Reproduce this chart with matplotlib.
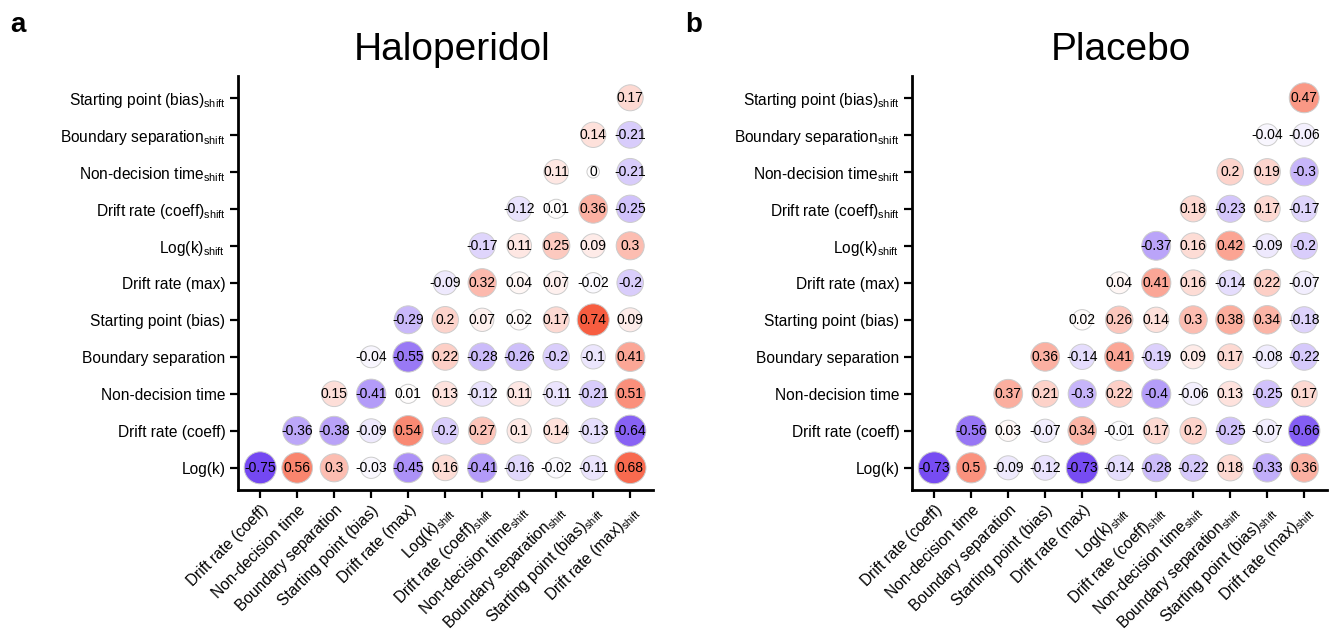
import matplotlib.pyplot as plt
import numpy as np
from matplotlib.colors import LinearSegmentedColormap

plt.rcParams['font.family'] = ['Liberation Sans', 'DejaVu Sans']
plt.rcParams['mathtext.fontset'] = 'custom'
plt.rcParams['mathtext.rm'] = 'Liberation Sans'
plt.rcParams['mathtext.it'] = 'Liberation Sans:italic'

SH = r'$_{\mathrm{shift}}$'
variables = ['Log(k)', 'Drift rate (coeff)', 'Non-decision time', 'Boundary separation',
             'Starting point (bias)', 'Drift rate (max)',
             'Log(k)' + SH, 'Drift rate (coeff)' + SH, 'Non-decision time' + SH,
             'Boundary separation' + SH, 'Starting point (bias)' + SH, 'Drift rate (max)' + SH]
row_labels = variables[:-1]
col_labels = variables[1:]

# lower triangle, one list per row variable (bottom row first)
haloperidol = [
    [-0.75, 0.56, 0.3, -0.03, -0.45, 0.16, -0.41, -0.16, -0.02, -0.11, 0.68],
    [-0.36, -0.38, -0.09, 0.54, -0.2, 0.27, 0.1, 0.14, -0.13, -0.64],
    [0.15, -0.41, 0.01, 0.13, -0.12, 0.11, -0.11, -0.21, 0.51],
    [-0.04, -0.55, 0.22, -0.28, -0.26, -0.2, -0.1, 0.41],
    [-0.29, 0.2, 0.07, 0.02, 0.17, 0.74, 0.09],
    [-0.09, 0.32, 0.04, 0.07, -0.02, -0.2],
    [-0.17, 0.11, 0.25, 0.09, 0.3],
    [-0.12, 0.01, 0.36, -0.25],
    [0.11, 0, -0.21],
    [0.14, -0.21],
    [0.17],
]

placebo = [
    [-0.73, 0.5, -0.09, -0.12, -0.73, -0.14, -0.28, -0.22, 0.18, -0.33, 0.36],
    [-0.56, 0.03, -0.07, 0.34, -0.01, 0.17, 0.2, -0.25, -0.07, -0.66],
    [0.37, 0.21, -0.3, 0.22, -0.4, -0.06, 0.13, -0.25, 0.17],
    [0.36, -0.14, 0.41, -0.19, 0.09, 0.17, -0.08, -0.22],
    [0.02, 0.26, 0.14, 0.3, 0.38, 0.34, -0.18],
    [0.04, 0.41, 0.16, -0.14, 0.22, -0.07],
    [-0.37, 0.16, 0.42, -0.09, -0.2],
    [0.18, -0.23, 0.17, -0.17],
    [0.2, 0.19, -0.3],
    [-0.04, -0.06],
    [0.47],
]

cmap = LinearSegmentedColormap.from_list('pr', ['#7448F2', '#FFFFFF', '#F75C3E'])

W, H = 1333, 629
fig = plt.figure(figsize=(W / 100, H / 100), dpi=100)

xlo, xhi = -0.6, 10.62
ylo, yhi = -0.6, 10.59
cell = 37.0


def draw_panel(left_px, rows, title, title_x, letter, letter_x):
    bottom_px = 490
    wpx = (xhi - xlo) * cell
    hpx = (yhi - ylo) * cell
    ax = fig.add_axes([left_px / W, 1 - bottom_px / H, wpx / W, hpx / H])

    xs, ys, vals = [], [], []
    for r, row in enumerate(rows):
        for k, v in enumerate(row):
            xs.append(r + k)
            ys.append(r)
            vals.append(v)
    xs = np.array(xs)
    ys = np.array(ys)
    vals = np.array(vals)

    diam = 12.5 + 21 * np.abs(vals) ** 0.25
    ax.scatter(xs, ys, s=(diam * 0.72) ** 2, c=vals, cmap=cmap, vmin=-0.75, vmax=0.75,
               edgecolors='#cccccc', linewidths=0.7, zorder=2)
    for x, y, v in zip(xs, ys, vals):
        ax.text(x, y, f'{v:g}', ha='center', va='center', fontsize=10, zorder=3)

    ax.set_xlim(xlo, xhi)
    ax.set_ylim(ylo, yhi)
    ax.set_xticks(range(11))
    ax.set_xticklabels(col_labels, rotation=45, ha='right', va='top',
                       rotation_mode='anchor', fontsize=11.2)
    ax.set_yticks(range(11))
    ax.set_yticklabels(row_labels, fontsize=11.2)
    for s in ['top', 'right']:
        ax.spines[s].set_visible(False)
    for s in ['left', 'bottom']:
        ax.spines[s].set_linewidth(2)
    ax.tick_params(direction='out', length=6, width=1.6, pad=3)

    fig.text(title_x / W, 1 - 50 / H, title, ha='center', va='center', fontsize=28)
    fig.text(letter_x / W, 1 - 25 / H, letter, ha='center', va='center',
             fontsize=20, fontweight='bold')
    return ax


draw_panel(238, haloperidol, 'Haloperidol', 452, 'a', 18)
draw_panel(912, placebo, 'Placebo', 1121, 'b', 694)

fig.savefig('out.png', dpi=100)
